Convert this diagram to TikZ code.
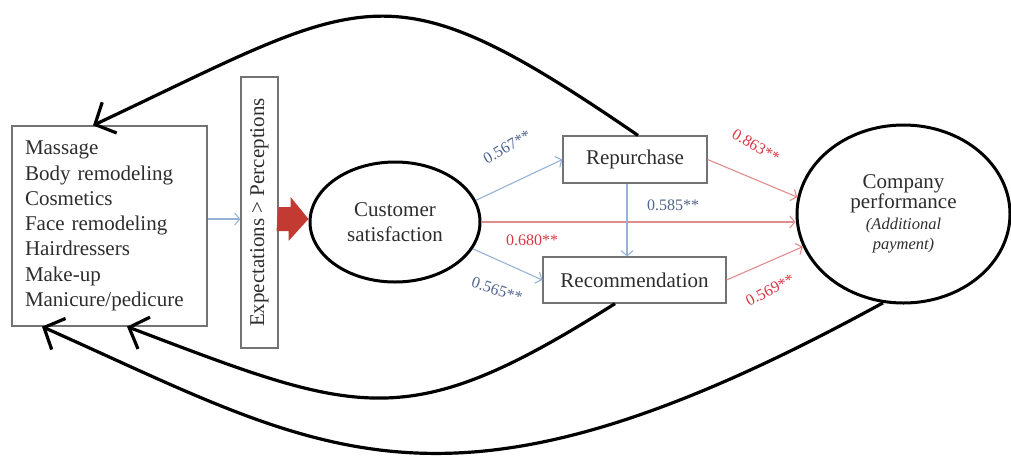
\documentclass[tikz,border=0pt]{standalone}
\usepackage{fontspec}
\setmainfont{Liberation Serif}
\usetikzlibrary{arrows.meta,shapes.geometric}
\definecolor{lblue}{RGB}{150,178,215}
\definecolor{lred}{RGB}{225,140,140}
\definecolor{tblue}{RGB}{80,100,140}
\definecolor{tred}{RGB}{215,55,65}
\definecolor{bred}{RGB}{195,58,50}
\definecolor{txt}{RGB}{45,45,45}
\definecolor{bgrey}{RGB}{115,115,115}
\begin{document}
\begin{tikzpicture}[x=1pt,y=-1pt,
  box/.style={draw=bgrey,line width=1.2pt,inner sep=0pt,text=txt,font=\fontsize{21}{25.3}\selectfont},
  oval/.style={ellipse,draw=black,line width=3pt,inner sep=0pt,text=txt,align=center},
  thinb/.style={lblue,line width=1.1pt,-{Straight Barb[length=5pt,width=12pt]}},
  thinr/.style={lred,line width=1.1pt,-{Straight Barb[length=5pt,width=12pt]}},
  loopline/.style={black,line width=3.2pt,-{Straight Barb[length=16pt,width=34pt]}},
  lab/.style={font=\fontsize{16}{16}\selectfont,inner sep=0pt},
]
\useasboundingbox (0,0) rectangle (1011,456);

% nodes
\node[box, text width=169pt, minimum height=200pt, align=left, inner xsep=13pt] (lb) at (109.5,226)
  {Massage\\Body remodeling\\Cosmetics\\Face remodeling\\Hairdressers\\Make-up\\Manicure/pedicure};
\node[box, minimum width=37pt, minimum height=271pt] (exp) at (259.5,212.5)
  {\rotatebox{90}{Expectations > Perceptions}};
\node[oval, minimum width=170pt, minimum height=120pt, font=\fontsize{21}{25}\selectfont] (cs) at (395,222)
  {Customer\\satisfaction};
\node[box, minimum width=144pt, minimum height=47pt] (rp) at (635,159.5) {Repurchase};
\node[box, minimum width=183pt, minimum height=46pt] (rec) at (634.5,280) {Recommendation};
\node[oval, minimum width=213pt, minimum height=178pt] (cp) at (903.5,214)
  {\renewcommand{\arraystretch}{1}%
   \begin{tabular}{@{}c@{}}
   \fontsize{21}{22}\selectfont Company\\[1pt]
   \fontsize{21}{22}\selectfont performance\\[6pt]
   \fontsize{16.5}{19}\selectfont\itshape (Additional\\[5pt]
   \fontsize{16.5}{19}\selectfont\itshape payment)
   \end{tabular}};

% labels
\node[lab, text=tblue, rotate=30] (l567) at (507,147) {0.567**};
\node[lab, text=tred] (l680) at (532,240) {0.680**};
\node[lab, text=tblue, rotate=-18] (l565) at (497,290) {0.565**};
\node[lab, text=tblue] (l585) at (673,205) {0.585**};
\node[lab, text=tred, rotate=-30] (l863) at (756,146) {0.863**};
\node[lab, text=tred, rotate=27] (l569) at (770,290) {0.569**};

% thin connectors
\coordinate (s1) at ([yshift=7pt]lb.east);
\draw[thinb] (s1) -- (s1 -| exp.west);
\fill[bred] (s1 -| exp.east) ++(0,-12) -- ++(12,0) -- ++(0,-10) -- (s1 -| cs.west)
  -- ++(-20,22) -- ++(0,-10) -- ++(-12,0) -- cycle;
\draw[thinb] (cs.15) -- (rp.west);
\draw[thinb] (cs.-19) -- (rec.west);
\draw[thinr] (cs.east) -- (cs.east -| cp.west);
\coordinate (s3) at ([xshift=-8pt]rp.south);
\draw[thinb] (s3) -- (s3 |- rec.north);
\draw[thinr] (rp.east) -- (cp.171);
\draw[thinr] (rec.east) -- (cp.198);

% feedback loops
\coordinate (t1) at ([xshift=3pt]rp.north);
\coordinate (t2) at ([xshift=-16.5pt]lb.north);
\draw[loopline] (t1) .. controls (385,-38) and (370,-5) .. (t2);
\coordinate (b1) at ([xshift=-19.5pt]rec.south);
\coordinate (b2) at ([xshift=17.5pt]lb.south);
\draw[loopline] (b1) .. controls (406,436) and (360,415) .. (b2);
\coordinate (b3) at ([xshift=-67.5pt]lb.south);
\draw[loopline] (cp.257) .. controls (444,543) and (326,453) .. (b3);
\end{tikzpicture}
\end{document}
